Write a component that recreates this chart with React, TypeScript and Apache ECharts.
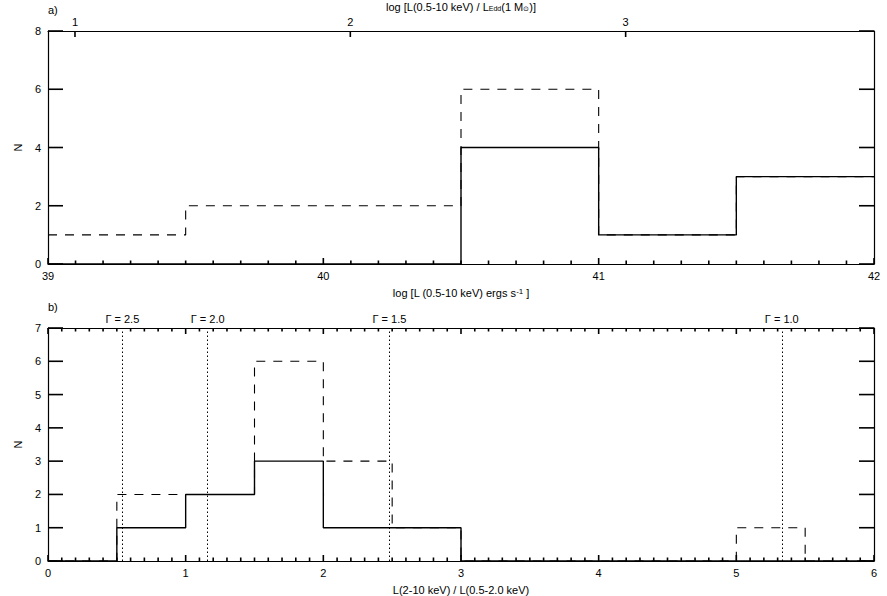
import React, { useEffect, useRef } from "react";
import * as echarts from "echarts";

// Panel a: luminosity histogram (bin edges in log L)
const aEdges = [39, 39.5, 40, 40.5, 41, 41.5, 42];
const aSolid = [0, 0, 0, 4, 1, 3];
const aDashed = [1, 2, 2, 6, 1, 3];
const aTopTicks = [1, 2, 3];
const eddOffset = 38.098; // log L_Edd(1 Msun)

// Panel b: hardness-ratio histogram
const bEdges = [0, 0.5, 1, 1.5, 2, 2.5, 3, 3.5, 4, 4.5, 5, 5.5, 6];
const bSolid = [0, 1, 2, 3, 1, 1, 0, 0, 0, 0, 0, 0];
const bDashed = [0, 2, 2, 6, 3, 1, 0, 0, 0, 0, 1, 0];
const gammaX = [0.543, 1.159, 2.478, 5.333];
const gammaLabels = ["Γ = 2.5", "Γ = 2.0", "Γ = 1.5", "Γ = 1.0"];

const FONT = "Liberation Sans";
const BLACK = "#000";

function stepData(edges: number[], vals: number[]) {
  return edges.map((e, i) => [e, vals[Math.min(i, vals.length - 1)]]);
}

// tick marks: [x, y, dxPixels, dyPixels]
function frameTicks(
  xmin: number, xmax: number, ymax: number, yStep: number,
  topMinor: boolean, topMajor: number[]
) {
  const out: number[][] = [];
  const n = Math.round((xmax - xmin) * 10);
  for (let i = 0; i <= n; i++) {
    const v = Math.round((xmin + i / 10) * 10) / 10;
    const len = i % 10 === 0 ? 6 : 3.5;
    out.push([v, 0, 0, -len]);
    if (topMinor) out.push([v, ymax, 0, len]);
  }
  topMajor.forEach((v) => out.push([v, ymax, 0, 6]));
  for (let y = 0; y <= ymax; y += yStep) {
    out.push([xmin, y, 15, 0]);
    out.push([xmax, y, -15, 0]);
  }
  return out;
}

export default function App() {
  const ref = useRef<HTMLDivElement>(null);
  useEffect(() => {
    if (!ref.current) return;
    const chart = echarts.init(ref.current, undefined, { renderer: "svg" });
    const txt = { color: BLACK, fontFamily: FONT, fontSize: 11 };
    const mkAxisLine = (onZeroAxisIndex?: number) => {
      const o: any = { show: true, lineStyle: { color: BLACK, width: 1.2 } };
      if (onZeroAxisIndex != null) o.onZeroAxisIndex = onZeroAxisIndex;
      return o;
    };
    const xBottom = (grid: number, min: number, max: number, name: string) => ({
      type: "value",
      gridIndex: grid,
      position: "bottom",
      min,
      max,
      interval: 1,
      axisLine: mkAxisLine(),
      axisTick: { show: false },
      axisLabel: { ...txt, margin: 6 },
      splitLine: { show: false },
      name,
      nameLocation: "middle",
      nameGap: 23,
      nameTextStyle: { ...txt, rich: { sup: { ...txt, fontSize: 8, verticalAlign: "top" } } },
    });
    const yLeft = (grid: number, max: number, interval: number) => ({
      type: "value",
      gridIndex: grid,
      position: "left",
      min: 0,
      max,
      interval,
      axisLine: mkAxisLine(),
      axisTick: { show: false },
      axisLabel: { ...txt, margin: 7 },
      splitLine: { show: false },
      name: "N",
      nameLocation: "middle",
      nameGap: 24,
      nameRotate: 90,
      nameTextStyle: { ...txt },
    });
    const yRight = (grid: number, max: number, interval: number, onZeroIdx?: number) => ({
      type: "value",
      gridIndex: grid,
      position: "right",
      min: 0,
      max,
      interval,
      axisLine: mkAxisLine(onZeroIdx),
      axisTick: { show: false },
      axisLabel: { show: false },
      splitLine: { show: false },
    });
    const hidden = (grid: number) => ({ type: "value", gridIndex: grid, show: false, min: 1, max: 2 });
    const solid = { color: BLACK, width: 1.4, type: "solid" };
    const dashed = { color: BLACK, width: 1.1, type: [9, 8] };
    const line = (x: number, y: number, data: number[][], ls: any) => ({
      type: "line",
      xAxisIndex: x,
      yAxisIndex: y,
      step: "end",
      data,
      showSymbol: false,
      symbol: "none",
      lineStyle: ls,
      silent: true,
    });
    const ticks = (x: number, y: number, data: number[][]) => ({
      type: "custom",
      xAxisIndex: x,
      yAxisIndex: y,
      silent: true,
      clip: false,
      z: 10,
      encode: { x: 0, y: 1 },
      data,
      renderItem: (_p: any, api: any) => {
        const pt = api.coord([api.value(0), api.value(1)]);
        return {
          type: "line",
          shape: { x1: pt[0], y1: pt[1], x2: pt[0] + api.value(2), y2: pt[1] + api.value(3) },
          style: { stroke: BLACK, lineWidth: 1.6, opacity: 1 },
        };
      },
    });
    chart.setOption({
      animation: false,
      grid: [
        { left: 48, top: 27, width: 826, height: 237 },
        { left: 48, top: 328, width: 826, height: 239 },
      ],
      xAxis: [
        xBottom(0, 39, 42, "log [L (0.5-10 keV) ergs s{sup|-1} ]"),
        {
          type: "value",
          gridIndex: 0,
          position: "top",
          min: 39 - eddOffset,
          max: 42 - eddOffset,
          axisLine: mkAxisLine(4),
          axisTick: { show: false },
          axisLabel: { ...txt, margin: 4, customValues: aTopTicks },
          splitLine: { show: false },
          name: "log [L(0.5-10 keV) / L{sub|Edd}(1 M{sub|⊙})]",
          nameLocation: "middle",
          nameGap: 19,
          nameTextStyle: {
            ...txt,
            rich: { sub: { ...txt, fontSize: 7, verticalAlign: "bottom", padding: [4, 0, 0, 0] } },
          },
        },
        xBottom(1, 0, 6, "L(2-10 keV) / L(0.5-2.0 keV)"),
        {
          type: "value",
          gridIndex: 1,
          position: "top",
          min: 0,
          max: 6,
          interval: 1,
          axisLine: mkAxisLine(5),
          axisTick: { show: false },
          axisLabel: { show: false },
          splitLine: { show: false },
        },
        hidden(1),
      ],
      yAxis: [
        yLeft(0, 8, 2),
        yRight(0, 8, 2),
        yLeft(1, 7, 1),
        yRight(1, 7, 1, 4),
        hidden(0),
        hidden(1),
      ],
      series: [
        line(0, 0, stepData(aEdges, aDashed), dashed),
        line(0, 0, stepData(aEdges, aSolid), solid),
        line(2, 2, stepData(bEdges, bDashed), dashed),
        line(2, 2, stepData(bEdges, bSolid), solid),
        ticks(0, 0, frameTicks(39, 42, 8, 2, false, aTopTicks.map((t) => t + eddOffset))),
        ticks(2, 2, frameTicks(0, 6, 7, 1, true, [])),
        {
          type: "line",
          xAxisIndex: 2,
          yAxisIndex: 2,
          data: [],
          silent: true,
          markLine: {
            silent: true,
            symbol: ["none", "none"],
            lineStyle: { color: BLACK, width: 1, type: [1.5, 2.5] },
            label: { show: true, position: "end", distance: 4, ...txt },
            data: gammaX.map((g, i) => ({
              xAxis: g,
              label: { formatter: gammaLabels[i] },
            })),
          },
        },
      ],
      graphic: [
        { type: "text", left: 48, top: 4, style: { text: "a)", fill: BLACK, font: `11px "${FONT}"` } },
        { type: "text", left: 48, top: 301, style: { text: "b)", fill: BLACK, font: `11px "${FONT}"` } },
      ],
    });
    return () => chart.dispose();
  }, []);
  return (
    <div
      ref={ref}
      style={{ position: "fixed", left: 0, top: 0, width: 887, height: 596, background: "#fff" }}
    />
  );
}
